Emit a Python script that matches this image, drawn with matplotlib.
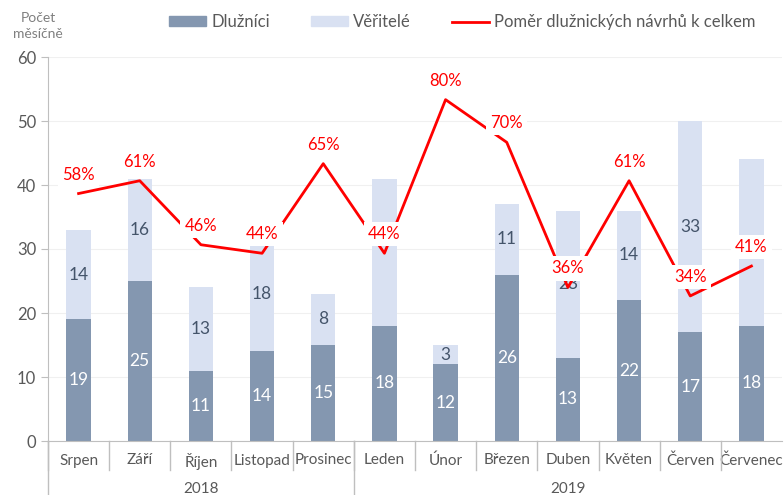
import numpy as np
import matplotlib
matplotlib.use("Agg")
import matplotlib.pyplot as plt
from matplotlib.patches import Patch
from matplotlib.lines import Line2D

plt.rcParams['font.family'] = ['Lato', 'DejaVu Sans']

months = ["Srpen", "Září", "Říjen", "Listopad", "Prosinec", "Leden", "Únor",
          "Březen", "Duben", "Květen", "Červen", "Červenec"]
years = ["2018", "2019"]
year_counts = [5, 7]
dluznici = [19, 25, 11, 14, 15, 18, 12, 26, 13, 22, 17, 18]
veritele = [14, 16, 13, 18, 8, 23, 3, 11, 23, 14, 33, 26]
pomer = [58, 61, 46, 44, 65, 44, 80, 70, 36, 61, 34, 41]
# labels covered by the percent labels in the original
hidden = [5, 11]

c_dl = "#8497B0"
c_ve = "#D9E1F2"
c_red = "#FF0000"
c_txt = "#595959"

fig = plt.figure(figsize=(7.84, 4.95), dpi=100)
ax = fig.add_axes([48/784, 1-441/495, 734/784, 384/495])
x = np.arange(len(months))
w = 0.4

ax.bar(x, dluznici, w, color=c_dl, zorder=2)
ax.bar(x, veritele, w, bottom=dluznici, color=c_ve, zorder=2)
for i in x:
    ax.text(i, dluznici[i]/2, str(dluznici[i]), ha="center", va="center",
            color="white", fontsize=12.5, zorder=3)
    if i in hidden:
        continue
    ax.text(i, dluznici[i] + veritele[i]/2, str(veritele[i]), ha="center",
            va="center", color="#44546A", fontsize=12.5, zorder=3)

ax.set_xlim(-0.5, len(months) - 0.5)
ax.set_ylim(0, 60)
ax.set_yticks(range(0, 61, 10))
ax.yaxis.grid(True, color="#F0F0F0", lw=0.8, zorder=0)
ax.set_axisbelow(True)
for s in ["top", "right"]:
    ax.spines[s].set_visible(False)
for s in ["left", "bottom"]:
    ax.spines[s].set_color("#BFBFBF")
ax.tick_params(axis="y", colors="#BFBFBF", labelcolor=c_txt, labelsize=12, length=5)
ax.set_xticks(x)
ax.set_xticklabels(months, fontsize=11, color=c_txt)
ax.tick_params(axis="x", length=0, pad=9)

# category separators
tr = ax.get_xaxis_transform()
for b in np.arange(-0.5, len(months) - 0.5):
    ax.plot([b, b], [0, -0.075], color="#BFBFBF", lw=1, transform=tr, clip_on=False)
start = -0.5
for yr, n in zip(years, year_counts):
    ax.plot([start, start], [0, -0.15], color="#BFBFBF", lw=1, transform=tr, clip_on=False)
    ax.text(start + n/2, -0.125, yr, ha="center", va="center", fontsize=11,
            color=c_txt, transform=tr)
    start += n

# ratio line on hidden secondary axis
ax2 = ax.twinx()
ax2.set_ylim(0, 90)
ax2.axis("off")
ax2.plot(x, pomer, color=c_red, lw=2, zorder=4)
for i in x:
    ax2.annotate(f"{pomer[i]}%", (i, pomer[i]), xytext=(0, 19),
                 textcoords="offset pixels", ha="center", va="center",
                 color=c_red, fontsize=12, zorder=5,
                 bbox=dict(boxstyle="square,pad=0.25", fc="white", ec="none"))

fig.text(38/784, 1-26/495, "Počet\nměsíčně", ha="center", va="center",
         fontsize=10, color="#7F7F7F", linespacing=1.3)

handles = [Patch(color=c_dl), Patch(color=c_ve), Line2D([], [], color=c_red, lw=2)]
labels = ["Dlužníci", "Věřitelé", "Poměr dlužnických návrhů k celkem"]
fig.legend(handles, labels, loc="center", bbox_to_anchor=(0.59, 0.955), ncol=3,
           frameon=False, fontsize=12, labelcolor=c_txt, handlelength=2.2,
           handleheight=0.55, columnspacing=2.5, handletextpad=0.3)

fig.savefig("out.png", dpi=100)
